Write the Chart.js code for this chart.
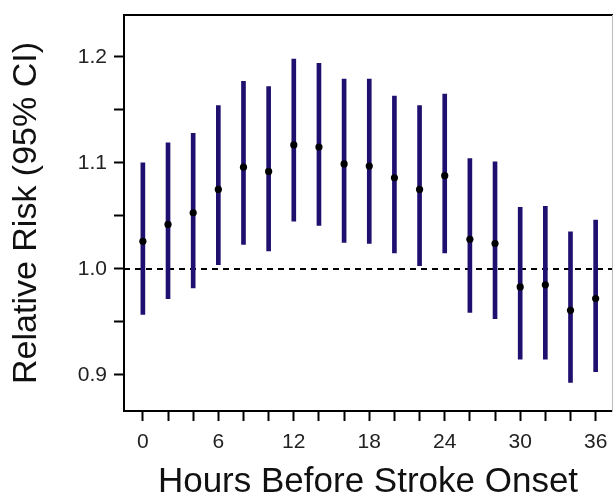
<!DOCTYPE html>
<html>
<head>
<meta charset="utf-8">
<script src="https://cdn.jsdelivr.net/npm/chart.js@4.4.1/dist/chart.umd.min.js"></script>
<style>
html,body{margin:0;padding:0;background:#fff;}
#wrap{width:616px;height:500px;position:relative;}
</style>
</head>
<body>
<div id="wrap"><canvas id="c" width="616" height="500"></canvas></div>
<script>
const hours = [0,2,4,6,8,10,12,14,16,18,20,22,24,26,28,30,32,34,36];
const relRisk = [1.026,1.042,1.053,1.075,1.096,1.092,1.117,1.115,1.099,1.097,1.086,1.075,1.088,1.028,1.024,0.983,0.985,0.961,0.972];
const ciLow  = [0.957,0.972,0.982,1.004,1.023,1.017,1.045,1.041,1.025,1.024,1.015,1.003,1.015,0.959,0.953,0.915,0.915,0.893,0.903];
const ciHigh = [1.100,1.119,1.128,1.154,1.177,1.172,1.198,1.194,1.179,1.179,1.163,1.154,1.165,1.104,1.101,1.058,1.059,1.035,1.046];
const yTicks = [0.9,0.95,1.0,1.05,1.1,1.15,1.2];
const xTicks = [0,2,4,6,8,10,12,14,16,18,20,22,24,26,28,30,32,34,36];
const referenceLine = 1.0;

const X_MIN = -1.5, X_MAX = 37.3, Y_MIN = 0.866, Y_MAX = 1.2395;
const FONT = "'Liberation Sans', Arial, sans-serif";

const noPad = s => { s.paddingTop = 0; s.paddingBottom = 0; };

new Chart(document.getElementById('c'), {
  type: 'bar',
  data: {
    datasets: [
      {
        type: 'bar',
        label: 'CI',
        data: hours.map((h,i)=>({x:h, y:[ciLow[i], ciHigh[i]]})),
        backgroundColor: '#1f1070',
        borderWidth: 0,
        barThickness: 4,
        order: 2
      },
      {
        type: 'line',
        label: 'ref',
        data: [{x:X_MIN,y:referenceLine},{x:X_MAX,y:referenceLine}],
        borderColor: '#000',
        borderWidth: 2,
        borderDash: [6,5],
        pointRadius: 0,
        order: 3
      },
      {
        type: 'scatter',
        label: 'RR',
        data: hours.map((h,i)=>({x:h, y:relRisk[i]})),
        backgroundColor: '#000',
        borderColor: '#000',
        pointRadius: 3.6,
        pointBorderWidth: 0,
        order: 1
      }
    ]
  },
  options: {
    responsive: false,
    animation: false,
    layout: {padding: 0},
    plugins: {legend:{display:false}, tooltip:{enabled:false}},
    scales: {
      x: {
        type: 'linear', position: 'bottom', min: X_MIN, max: X_MAX, offset: false,
        afterBuildTicks: s => { s.ticks = xTicks.map(v=>({value:v})); },
        afterFit: s => { s.height = 89; s.paddingLeft = 0; s.paddingRight = 0; },
        ticks: {
          autoSkip: false, maxRotation: 0, padding: 9,
          color: '#222', font: {family: FONT, size: 21},
          callback: v => (v % 6 === 0 ? String(v) : '')
        },
        grid: {drawOnChartArea: false, drawTicks: true, tickLength: 10, tickWidth: 2, tickColor: '#000', offset: false},
        border: {color: '#000', width: 2},
        title: {display: true, text: 'Hours Before Stroke Onset', color: '#111',
                font: {family: FONT, size: 35}, padding: {top: 12, bottom: -3}}
      },
      xTop: {
        type: 'linear', position: 'top', min: X_MIN, max: X_MAX, offset: false,
        afterFit: s => { s.height = 15; s.paddingLeft = 0; s.paddingRight = 0; },
        ticks: {display: false},
        grid: {drawOnChartArea: false, drawTicks: false},
        border: {color: '#000', width: 2}
      },
      y: {
        type: 'linear', position: 'left', min: Y_MIN, max: Y_MAX,
        afterBuildTicks: s => { s.ticks = yTicks.map(v=>({value:v})); },
        afterFit: s => { s.width = 124; noPad(s); },
        ticks: {
          padding: 7, color: '#222', font: {family: FONT, size: 21},
          callback: v => (Math.abs(Math.round(v*10) - v*10) < 1e-6 ? v.toFixed(1) : '')
        },
        grid: {drawOnChartArea: false, drawTicks: true, tickLength: 10, tickWidth: 2, tickColor: '#000'},
        border: {color: '#000', width: 2},
        title: {display: true, text: 'Relative Risk (95% CI)', color: '#111',
                font: {family: FONT, size: 34}, padding: {top: 6, bottom: 4}}
      },
      yRight: {
        type: 'linear', position: 'right', min: Y_MIN, max: Y_MAX,
        afterFit: s => { s.width = 2; noPad(s); },
        ticks: {display: false},
        grid: {drawOnChartArea: false, drawTicks: false},
        border: {color: '#bbb', width: 1}
      }
    }
  }
});
</script>
</body>
</html>
